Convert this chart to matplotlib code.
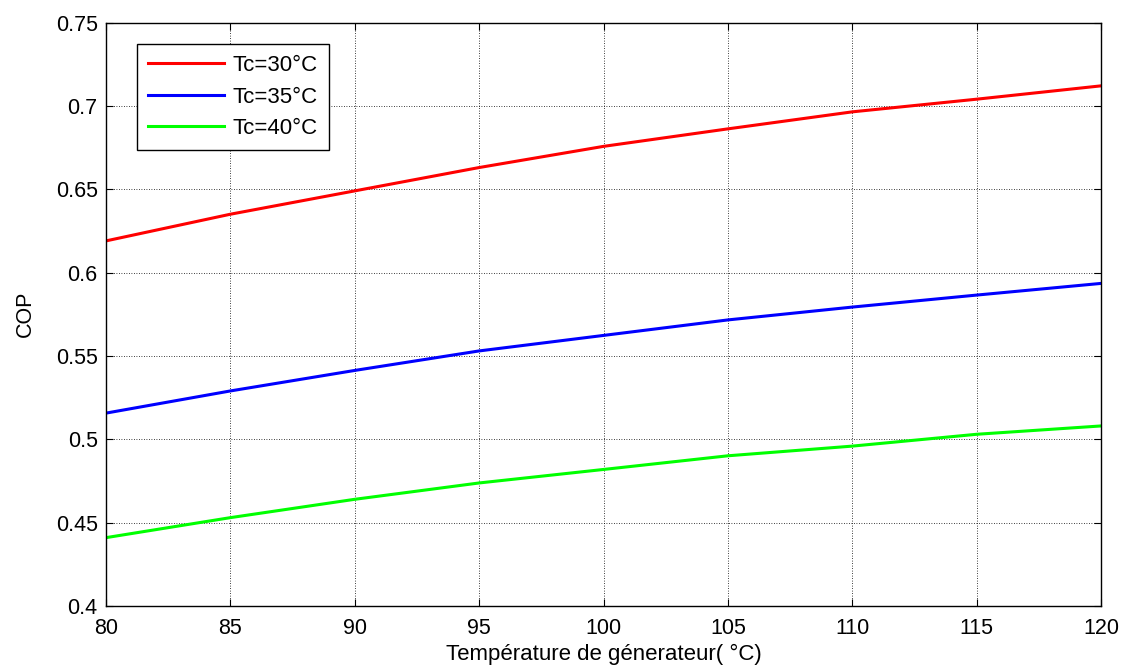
import matplotlib
matplotlib.use("Agg")
import matplotlib.pyplot as plt

plt.rcParams['font.family'] = ['Liberation Sans', 'DejaVu Sans']

temp_gen = [80, 85, 90, 95, 100, 105, 110, 115, 120]
cop_tc30 = [0.619, 0.635, 0.649, 0.663, 0.6757, 0.6862, 0.6964, 0.704, 0.712]
cop_tc35 = [0.5157, 0.529, 0.5413, 0.553, 0.5623, 0.5716, 0.5793, 0.5865, 0.5935]
cop_tc40 = [0.441, 0.453, 0.464, 0.4738, 0.4819, 0.4901, 0.4959, 0.503, 0.508]
labels = ['Tc=30°C', 'Tc=35°C', 'Tc=40°C']
xticks = [80, 85, 90, 95, 100, 105, 110, 115, 120]
yticks = [0.4, 0.45, 0.5, 0.55, 0.6, 0.65, 0.7, 0.75]
ytick_labels = ['0.4', '0.45', '0.5', '0.55', '0.6', '0.65', '0.7', '0.75']

fig = plt.figure(figsize=(11.24, 6.67), dpi=100)
ax = fig.add_axes([106/1124, 1-606/667, (1101-106)/1124, (606-22.5)/667])

ax.plot(temp_gen, cop_tc30, color='#ff0000', lw=2.2, label=labels[0])
ax.plot(temp_gen, cop_tc35, color='#0000ff', lw=2.2, label=labels[1])
ax.plot(temp_gen, cop_tc40, color='#00ff00', lw=2.2, label=labels[2])

ax.set_xlim(80, 120)
ax.set_ylim(0.4, 0.75)
ax.set_xticks(xticks)
ax.set_xticklabels([str(t) for t in xticks])
ax.set_yticks(yticks)
ax.set_yticklabels(ytick_labels)
ax.grid(True, color='black', linestyle=(0, (1, 2)), linewidth=0.6)
ax.tick_params(direction='in', top=True, right=True, labelsize=15.5, length=5, width=0.8)
ax.tick_params(axis='x', pad=8.5)
ax.tick_params(axis='y', pad=6)
for s in ax.spines.values():
    s.set_linewidth(1.0)

ax.set_xlabel('Température de génerateur( °C)', fontsize=16, labelpad=4)
ax.set_ylabel('COP', fontsize=15.5, labelpad=14)

leg = ax.legend(loc='upper left', bbox_to_anchor=(31/995, 1-21.5/583.5), fontsize=16,
                fancybox=False, edgecolor='black', framealpha=1, handlelength=3.4,
                borderpad=0.5, labelspacing=0.47, handletextpad=0.4, borderaxespad=0)
leg.get_frame().set_linewidth(1.0)

fig.savefig('out.png', dpi=100)
